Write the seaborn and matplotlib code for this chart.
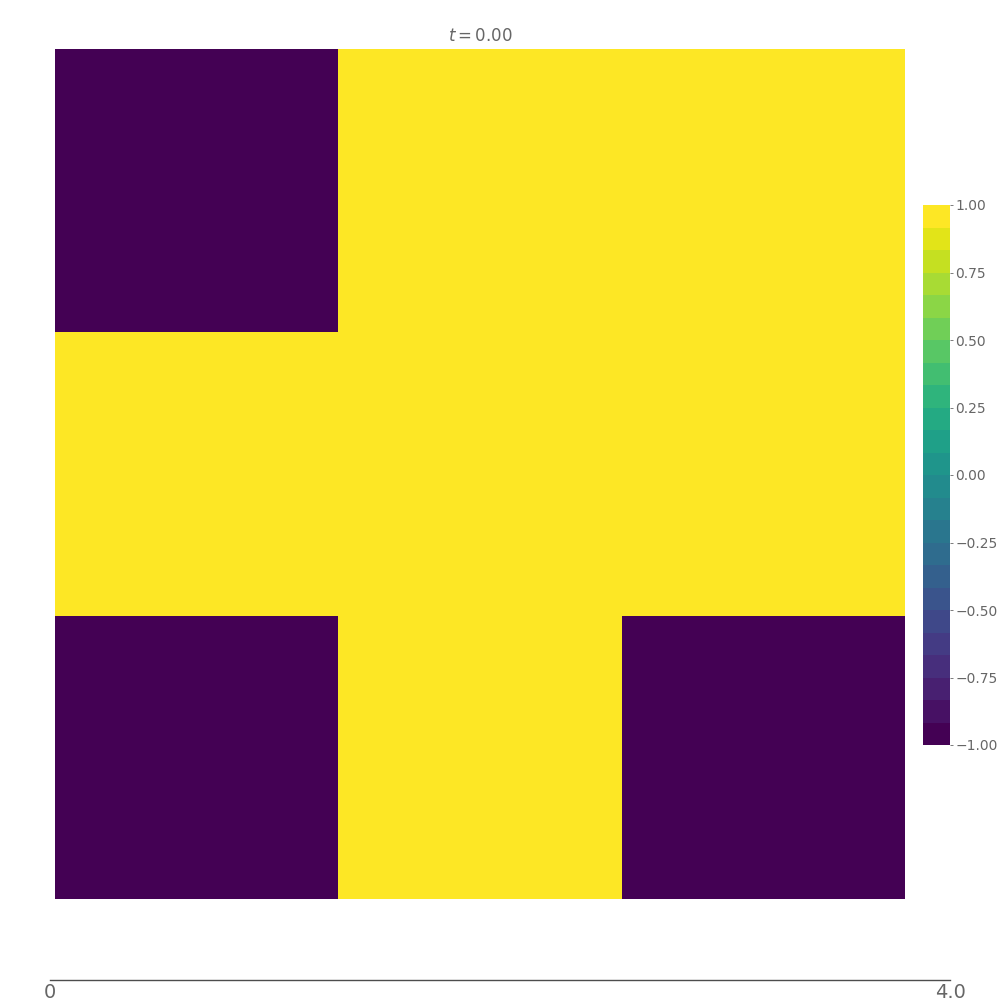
import numpy as np
import matplotlib
matplotlib.use('Agg')
import matplotlib.pyplot as plt
import seaborn as sns
from matplotlib.colors import ListedColormap, BoundaryNorm

# Field values on the 3x3 grid at t = 0
row_top = [-1, 1, 1]
row_mid = [1, 1, 1]
row_bot = [-1, 1, -1]
time_label = "$t = 0.00$"
cbar_ticks = [-1.0, -0.75, -0.5, -0.25, 0.0, 0.25, 0.5, 0.75, 1.0]
time_range = [0, 4.0]
time_ticklabels = ['0', '4.0']

grid = np.array([row_top, row_mid, row_bot], dtype=float)

sns.set_style('white')
plt.rcParams['font.family'] = ['DejaVu Sans']

# discrete viridis, like contour levels
n_levels = 24
levels = np.linspace(-1, 1, n_levels + 1)
cmap = ListedColormap(plt.get_cmap('viridis')(np.linspace(0, 1, n_levels)))
norm = BoundaryNorm(levels, cmap.N)

fig = plt.figure(figsize=(10, 10), dpi=100)
ax = fig.add_axes([0.055, 0.101, 0.85, 0.85])
cax = fig.add_axes([0.923, 0.255, 0.027, 0.54])

sns.heatmap(grid, ax=ax, cmap=cmap, norm=norm, vmin=-1, vmax=1,
            cbar_ax=cax, xticklabels=False, yticklabels=False,
            cbar_kws={'ticks': cbar_ticks})
ax.set_title(time_label, fontsize=12, color='0.4', pad=6)

cbar = ax.collections[0].colorbar
cbar.outline.set_visible(False)
cbar.ax.minorticks_off()
cbar.ax.tick_params(labelsize=10, colors='0.4', length=2, width=0.6, pad=2)
cbar.ax.set_yticklabels([f'{t:.2f}'.replace('-', '\u2212') for t in cbar_ticks])

# time slider axis at the bottom
tax = fig.add_axes([0.05, 0.02, 0.9, 0.0001])
tax.set_xlim(time_range)
tax.set_ylim(0, 1)
for side in ['top', 'left', 'right']:
    tax.spines[side].set_visible(False)
tax.spines['bottom'].set_color('0.3')
tax.spines['bottom'].set_linewidth(1)
tax.set_yticks([])
tax.set_xticks(time_range)
tax.set_xticklabels(time_ticklabels)
tax.tick_params(axis='x', length=0, labelsize=14, colors='0.4', pad=2)

plt.savefig('out.png', dpi=100)
plt.close()
